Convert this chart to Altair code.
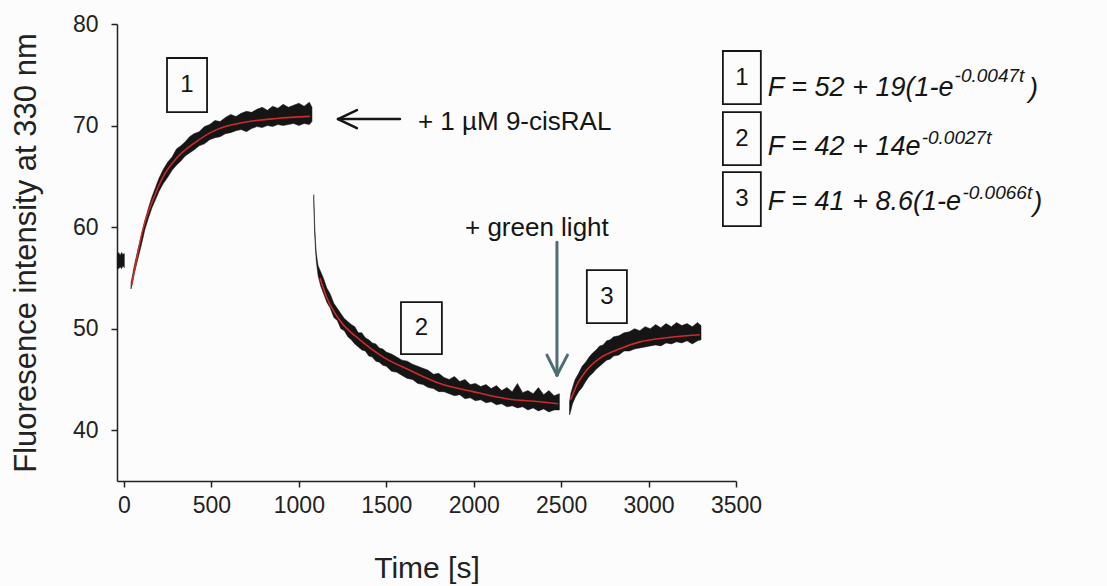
import altair as alt
import pandas as pd

# ---------------- data ----------------
# baseline points before addition
t0 = [-38, -30, -22, -14, -6, 2]
lo0 = [56.0, 55.9, 56.1, 55.9, 56.2, 56.0]
hi0 = [57.3, 57.5, 57.2, 57.5, 57.3, 57.4]

# segment 1: rise after + 1 uM 9-cisRAL (noisy envelope)
t1 = [40, 60, 80, 100, 120, 140, 160, 180, 200, 225, 250, 275, 300, 325, 350, 375,
      400, 430, 460, 490, 520, 550, 580, 610, 640, 670, 700, 730, 760, 790, 820,
      850, 880, 910, 940, 970, 1000, 1030, 1060, 1075]
lo1 = [53.9, 55.5, 56.9, 58.3, 59.8, 60.9, 61.9, 62.7, 63.5, 64.3, 64.9, 65.6, 66.1,
       66.5, 67.0, 67.3, 67.6, 68.0, 68.2, 68.6, 68.8, 68.9, 69.2, 69.3, 69.5, 69.6,
       69.4, 69.7, 69.9, 69.8, 70.0, 69.9, 70.1, 70.0, 70.1, 70.2, 70.0, 70.2, 70.1, 70.4]
hi1 = [54.5, 56.3, 57.8, 59.2, 60.7, 61.9, 63.0, 63.9, 64.8, 65.7, 66.4, 66.9, 67.7,
       68.0, 68.4, 68.9, 69.2, 69.4, 69.9, 70.1, 70.5, 70.4, 70.8, 71.1, 70.9, 71.2,
       71.4, 71.3, 71.6, 71.8, 71.5, 71.9, 71.7, 72.1, 71.8, 72.0, 72.2, 71.9, 72.3, 71.8]

# segment 2: decay
t2 = [1085, 1090, 1095, 1100, 1110, 1125, 1140, 1160, 1180, 1200, 1220, 1240, 1260,
      1280, 1300, 1320, 1340, 1360, 1380, 1400, 1420, 1440, 1460, 1480, 1500, 1530,
      1560, 1590, 1620, 1650, 1680, 1710, 1740, 1770, 1800, 1830, 1860, 1890, 1920,
      1950, 1980, 2010, 2040, 2070, 2100, 2130, 2160, 2190, 2220, 2250, 2280, 2310,
      2340, 2370, 2400, 2430, 2460, 2490]
lo2 = [62.6, 59.5, 57.8, 56.6, 55.2, 54.2, 53.5, 52.6, 52.0, 51.1, 50.8, 50.0, 49.8,
       49.2, 48.9, 48.5, 48.2, 47.9, 47.8, 47.3, 47.2, 46.8, 46.7, 46.4, 46.3, 45.8,
       45.7, 45.4, 45.1, 45.0, 44.6, 44.5, 44.2, 44.1, 43.8, 43.8, 43.6, 43.4, 43.5,
       43.1, 43.2, 42.9, 43.0, 42.7, 42.8, 42.5, 42.6, 42.3, 42.4, 42.2, 42.3, 42.0,
       42.2, 41.9, 42.1, 41.8, 42.0, 42.0]
hi2 = [63.2, 60.5, 58.6, 57.4, 56.2, 55.6, 55.0, 54.0, 53.4, 52.5, 52.0, 51.5, 51.0,
       50.7, 50.4, 50.2, 49.6, 49.6, 49.1, 48.9, 48.6, 48.5, 48.1, 48.0, 47.7, 47.5,
       47.2, 46.9, 46.8, 46.5, 46.3, 46.1, 45.9, 45.5, 45.6, 45.2, 45.0, 45.3, 44.8,
       45.0, 44.5, 44.6, 44.3, 44.5, 44.1, 44.4, 43.9, 44.2, 43.8, 44.6, 43.7, 43.9,
       43.6, 44.2, 43.5, 43.9, 43.4, 43.6]

# segment 3: recovery after + green light
t3 = [2548, 2555, 2565, 2580, 2600, 2620, 2640, 2660, 2680, 2700, 2720, 2740, 2760,
      2780, 2800, 2830, 2860, 2890, 2920, 2950, 2980, 3010, 3040, 3070, 3100, 3130,
      3160, 3190, 3220, 3250, 3280, 3300]
lo3 = [41.5, 41.9, 42.6, 43.2, 43.8, 44.2, 44.8, 45.3, 45.6, 46.0, 46.3, 46.6, 46.9,
       47.0, 47.3, 47.4, 47.8, 47.8, 48.0, 48.1, 48.2, 48.3, 48.4, 48.3, 48.6, 48.5,
       48.7, 48.6, 48.8, 48.5, 48.8, 48.9]
hi3 = [42.8, 43.6, 44.2, 45.0, 45.6, 46.3, 46.7, 47.2, 47.6, 47.9, 48.3, 48.4, 48.8,
       48.9, 49.2, 49.3, 49.6, 49.7, 50.0, 49.8, 50.2, 50.0, 50.4, 50.1, 50.5, 50.2,
       50.6, 50.3, 50.5, 50.2, 50.6, 50.3]

# red fitted curves
fit1_t = [44, 110, 168, 225, 301, 396, 530, 682, 873, 1063]
fit1_v = [54.3, 59.9, 62.8, 65.0, 66.8, 68.2, 69.6, 70.3, 70.7, 70.9]
fit2_t = [1121, 1159, 1235, 1349, 1483, 1635, 1807, 1997, 2188, 2378, 2483]
fit2_v = [55.0, 53.1, 50.8, 48.9, 47.2, 45.9, 44.6, 43.8, 43.1, 42.8, 42.6]
fit3_t = [2554, 2588, 2645, 2722, 2817, 2950, 3102, 3293]
fit3_v = [43.0, 44.4, 45.9, 47.1, 47.9, 48.7, 49.1, 49.4]

x_ticks = [0, 500, 1000, 1500, 2000, 2500, 3000, 3500]
y_ticks = [40, 50, 60, 70, 80]

box_labels = ["1", "2", "3", "1", "2", "3"]
equations = ["F = 52 + 19(1-e", "F = 42 + 14e", "F = 41 + 8.6(1-e"]
exponents = ["-0.0047t", "-0.0027t", "-0.0066t"]
add_label = "+ 1 µM 9-cisRAL"
light_label = "+ green light"

# ---------------- tables ----------------
band = pd.concat([
    pd.DataFrame({"t": t0, "lo": lo0, "hi": hi0, "seg": "0"}),
    pd.DataFrame({"t": t1, "lo": lo1, "hi": hi1, "seg": "1"}),
    pd.DataFrame({"t": t2, "lo": lo2, "hi": hi2, "seg": "2"}),
    pd.DataFrame({"t": t3, "lo": lo3, "hi": hi3, "seg": "3"}),
])
fits = pd.concat([
    pd.DataFrame({"t": fit1_t, "v": fit1_v, "seg": "1"}),
    pd.DataFrame({"t": fit2_t, "v": fit2_v, "seg": "2"}),
    pd.DataFrame({"t": fit3_t, "v": fit3_v, "seg": "3"}),
])

FONT = "Liberation Sans"
INK = "#151515"
xs = alt.Scale(domain=[-40, 3500], nice=False, zero=False)
ys = alt.Scale(domain=[35, 80], nice=False, zero=False)

base_x = alt.X("t:Q", scale=xs, axis=alt.Axis(
    values=x_ticks, format="d", title="Time [s]", grid=False, tickSize=6,
    labelFontSize=23, titleFontSize=30, titleFontWeight="normal", labelPadding=7,
    titlePadding=36, labelFlush=False))
base_y_lo = alt.Y("lo:Q", scale=ys, axis=alt.Axis(
    values=y_ticks, format="d", title="Fluoresence intensity at 330 nm", grid=False,
    tickSize=6, labelFontSize=23, titleFontSize=31, titleFontWeight="normal",
    labelPadding=13, titlePadding=30, labelFlush=False))

band_layer = alt.Chart(band).mark_area(color=INK, opacity=1,
                                       stroke=INK, strokeWidth=0.5).encode(
    x=base_x, y=base_y_lo, y2="hi:Q", detail="seg:N")

fit_layer = alt.Chart(fits).mark_line(color="#d02a2a", strokeWidth=1.6,
                                      interpolate="monotone").encode(
    x=alt.X("t:Q", scale=xs), y=alt.Y("v:Q", scale=ys), detail="seg:N")

# ---------------- annotations (data coordinates) ----------------
boxes = pd.DataFrame({
    "x1": [246, 1584, 2647, 3425, 3425, 3425],
    "x2": [475, 1818, 2876, 3642, 3642, 3642],
    "y1": [76.65, 52.61, 55.76, 77.34, 71.33, 65.42],
    "y2": [71.33, 47.49, 50.54, 72.12, 66.11, 60.10],
    "lab": box_labels,
})
boxes["cx"] = (boxes["x1"] + boxes["x2"]) / 2
boxes["cy"] = (boxes["y1"] + boxes["y2"]) / 2

box_layer = alt.Chart(boxes).mark_rect(fillOpacity=0, stroke=INK,
                                       strokeWidth=1.8).encode(
    x=alt.X("x1:Q", scale=xs), x2="x2:Q", y=alt.Y("y1:Q", scale=ys), y2="y2:Q")
box_text = alt.Chart(boxes).mark_text(font=FONT, fontSize=24, color=INK,
                                      baseline="middle", align="center").encode(
    x=alt.X("cx:Q", scale=xs), y=alt.Y("cy:Q", scale=ys), text="lab:N")

eq_df = pd.DataFrame({"t": [3682, 3682, 3682], "v": [73.69, 67.88, 62.46],
                      "txt": equations})
eq_layer = alt.Chart(eq_df).mark_text(font=FONT, fontSize=27, fontStyle="italic",
                                      color=INK, align="left",
                                      baseline="middle").encode(
    x=alt.X("t:Q", scale=xs), y=alt.Y("v:Q", scale=ys), text="txt:N")
sup_df = pd.DataFrame({"t": [4750, 4562, 4795], "v": [74.85, 68.75, 63.4],
                       "txt": exponents})
sup_layer = alt.Chart(sup_df).mark_text(font=FONT, fontSize=19, fontStyle="italic",
                                        color=INK, align="left",
                                        baseline="middle").encode(
    x=alt.X("t:Q", scale=xs), y=alt.Y("v:Q", scale=ys), text="txt:N")
close_df = pd.DataFrame({"t": [5175, 5200], "v": [73.6, 62.4], "txt": [")", ")"]})
close_layer = alt.Chart(close_df).mark_text(font=FONT, fontSize=27, fontStyle="italic",
                                            color=INK, align="left",
                                            baseline="middle").encode(
    x=alt.X("t:Q", scale=xs), y=alt.Y("v:Q", scale=ys), text="txt:N")

lab_df = pd.DataFrame({"t": [1681, 1950], "v": [70.34, 59.9],
                       "txt": [add_label, light_label]})
lab_layer = alt.Chart(lab_df).mark_text(font=FONT, fontSize=26, color=INK,
                                        align="left", baseline="middle").encode(
    x=alt.X("t:Q", scale=xs), y=alt.Y("v:Q", scale=ys), text="txt:N")

black_arrow = pd.DataFrame({
    "xa": [1224, 1224, 1224], "xb": [1578, 1332, 1332],
    "ya": [70.64, 70.64, 70.64], "yb": [70.64, 71.53, 69.75]})
black_arrow_layer = alt.Chart(black_arrow).mark_rule(color=INK, strokeWidth=2.5,
                                                     strokeCap="round").encode(
    x=alt.X("xa:Q", scale=xs), x2="xb:Q", y=alt.Y("ya:Q", scale=ys), y2="yb:Q")

teal_arrow = pd.DataFrame({
    "xa": [2476, 2476, 2476], "xb": [2476, 2419, 2536],
    "ya": [58.52, 45.42, 45.42], "yb": [45.42, 47.39, 47.39]})
teal_arrow_layer = alt.Chart(teal_arrow).mark_rule(color="#4d6f74", strokeWidth=3,
                                                   strokeCap="round").encode(
    x=alt.X("xa:Q", scale=xs), x2="xb:Q", y=alt.Y("ya:Q", scale=ys), y2="yb:Q")

chart = alt.layer(
    band_layer, fit_layer, box_layer, box_text, eq_layer, sup_layer, close_layer,
    lab_layer, black_arrow_layer, teal_arrow_layer
).properties(
    width=619, height=457,
    autosize=alt.AutoSizeParams(type="none"),
    padding={"left": 117, "top": 24, "right": 371, "bottom": 105},
    background="#fcfcfc",
).configure_view(stroke=None).configure_axis(
    labelFont=FONT, titleFont=FONT, labelColor="#222222", titleColor="#222222",
    domainColor="#222222", tickColor="#222222", domainWidth=1.5, tickWidth=1.5,
)

chart.save("out.html", embed_options={"renderer": "svg", "actions": False})
